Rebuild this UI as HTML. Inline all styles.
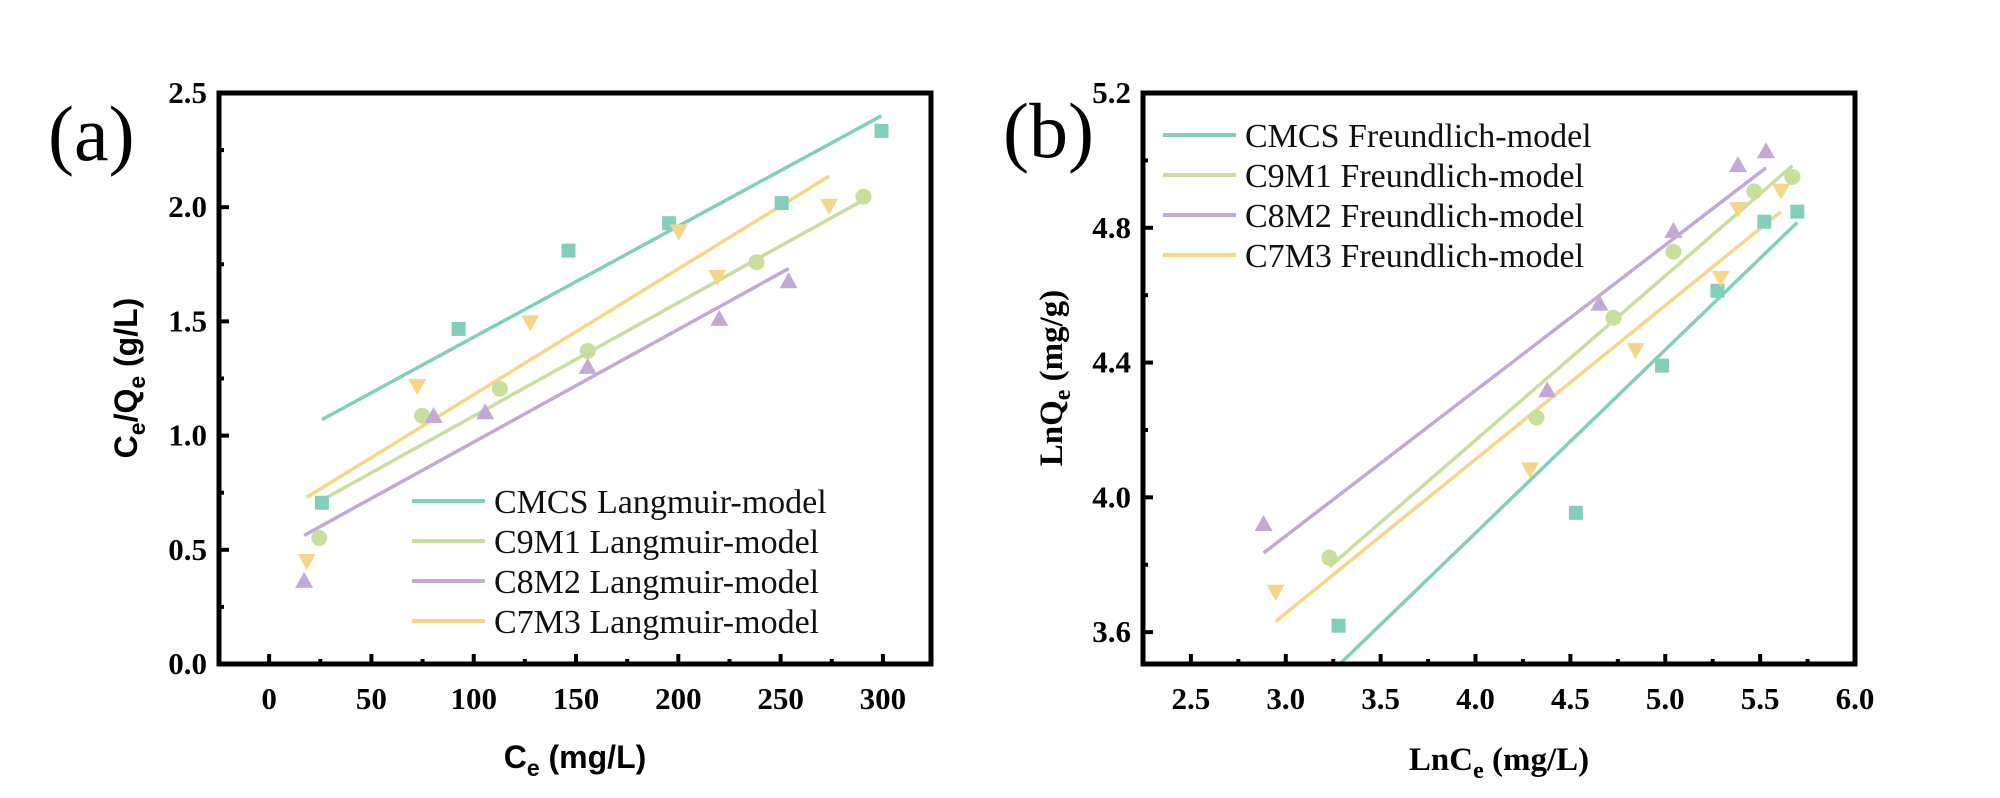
<!DOCTYPE html>
<html><head><meta charset="utf-8"><style>
html,body{margin:0;padding:0;background:#fff;}
svg{display:block;}
.tick{font-family:"Liberation Serif",serif;font-weight:bold;font-size:31px;fill:#000;}
.leg{font-family:"Liberation Serif",serif;font-size:34px;fill:#111;}
</style></head><body>
<svg id="chart" width="2000" height="798" viewBox="0 0 2000 798" xmlns="http://www.w3.org/2000/svg">
<g id="pa"></g>
<g id="pb"></g>
</svg>
<script>
// Panel A data (Langmuir)
const aNames = ["CMCS", "C9M1", "C8M2", "C7M3"];
const aCmcsX = [25.8, 92.6, 146.3, 195.5, 250.5, 299.3];
const aCmcsY = [0.706, 1.467, 1.81, 1.93, 2.018, 2.334];
const aC9m1X = [24.5, 74.8, 112.8, 155.7, 238.2, 290.5];
const aC9m1Y = [0.552, 1.087, 1.205, 1.371, 1.759, 2.046];
const aC8m2X = [17.1, 80.4, 105.6, 155.7, 220, 253.9];
const aC8m2Y = [0.364, 1.086, 1.102, 1.301, 1.511, 1.676];
const aC7m3X = [18.4, 72.4, 127.6, 200.2, 219, 273.7];
const aC7m3Y = [0.451, 1.217, 1.496, 1.894, 1.695, 2.006];
const aFitX = [[25.8, 299.3], [24.5, 291], [17.1, 253.9], [18.4, 273.7]];
const aFitY = [[1.07, 2.40], [0.711, 2.034], [0.563, 1.731], [0.730, 2.136]];
const aXTicks = [0, 50, 100, 150, 200, 250, 300];
const aYTicks = [0.0, 0.5, 1.0, 1.5, 2.0, 2.5];
// Panel B data (Freundlich)
const bCmcsX = [3.278, 4.529, 4.983, 5.275, 5.522, 5.696];
const bCmcsY = [3.619, 3.954, 4.391, 4.613, 4.818, 4.848];
const bC9m1X = [3.230, 4.321, 4.727, 5.043, 5.469, 5.670];
const bC9m1Y = [3.821, 4.237, 4.533, 4.729, 4.908, 4.951];
const bC8m2X = [2.883, 4.378, 4.653, 5.043, 5.383, 5.531];
const bC8m2Y = [3.921, 4.318, 4.575, 4.791, 4.986, 5.027];
const bC7m3X = [2.947, 4.287, 4.844, 5.292, 5.383, 5.610];
const bC7m3Y = [3.720, 4.083, 4.437, 4.651, 4.856, 4.910];
const bFitX = [[3.282, 5.696], [3.230, 5.670], [2.883, 5.531], [2.947, 5.610]];
const bFitY = [[3.504, 4.816], [3.794, 4.984], [3.835, 4.978], [3.632, 4.848]];
const bXTicks = [2.5, 3.0, 3.5, 4.0, 4.5, 5.0, 5.5, 6.0];
const bYTicks = [3.6, 4.0, 4.4, 4.8, 5.2];

const colors = ["#82cfbd", "#c8df9e", "#c4a9d8", "#f7d689"];
const markers = ["square", "circle", "tri", "itri"];
const NS = "http://www.w3.org/2000/svg";
function mk(tag, attrs, parent){const e=document.createElementNS(NS,tag);for(const k in attrs)e.setAttribute(k,attrs[k]);parent.appendChild(e);return e;}

function panel(g, box, xd, yd, xTicks, yTicks, xMinorStep, yMinorStep, fmtX, fmtY, xs, ys, fitX, fitY, legendPos, suffix){
  const sx = v => box.l + (v - xd[0]) / (xd[1] - xd[0]) * (box.r - box.l);
  const sy = v => box.b - (v - yd[0]) / (yd[1] - yd[0]) * (box.b - box.t);
  const clip = mk("clipPath", {id: "clip" + suffix}, g);
  mk("rect", {x: box.l, y: box.t, width: box.r - box.l, height: box.b - box.t}, clip);
  for (let i = 0; i < 4; i++) {
    const ln = mk("line", {x1: sx(fitX[i][0]), y1: sy(fitY[i][0]), x2: sx(fitX[i][1]), y2: sy(fitY[i][1]), stroke: colors[i], "stroke-width": 3.5, "clip-path": "url(#clip" + suffix + ")"}, g);
    
    
  }
  for (let i = 0; i < 4; i++) {
    for (let j = 0; j < xs[i].length; j++) {
      const cx = sx(xs[i][j]), cy = sy(ys[i][j]);
      let el;
      if (markers[i] === "square") el = mk("rect", {x: cx - 7, y: cy - 7, width: 14, height: 14, fill: colors[i]}, g);
      else if (markers[i] === "circle") el = mk("circle", {cx: cx, cy: cy, r: 8, fill: colors[i]}, g);
      else if (markers[i] === "tri") el = mk("polygon", {points: `${cx},${cy-9} ${cx-9},${cy+7} ${cx+9},${cy+7}`, fill: colors[i]}, g);
      else el = mk("polygon", {points: `${cx},${cy+9} ${cx-9},${cy-7} ${cx+9},${cy-7}`, fill: colors[i]}, g);
      
      
    }
  }
  const fr = mk("rect", {x: box.l, y: box.t, width: box.r - box.l, height: box.b - box.t, fill: "none", stroke: "#000", "stroke-width": 5}, g);
  
  
  xTicks.forEach((v, k) => {
    const x = sx(v);
    mk("line", {x1: x, y1: box.b, x2: x, y2: box.b - 10, stroke: "#000", "stroke-width": 4}, g);
    const t = mk("text", {x: x, y: box.b + 45, "text-anchor": "middle", class: "tick"}, g);
    t.textContent = fmtX(v);
    
    
    if (k < xTicks.length - 1) {
      const xm = sx(v + xMinorStep);
      mk("line", {x1: xm, y1: box.b, x2: xm, y2: box.b - 5, stroke: "#000", "stroke-width": 4}, g);
    }
  });
  yTicks.forEach((v, k) => {
    const y = sy(v);
    mk("line", {x1: box.l, y1: y, x2: box.l + 10, y2: y, stroke: "#000", "stroke-width": 4}, g);
    const t = mk("text", {x: box.l - 12, y: y + 10, "text-anchor": "end", class: "tick"}, g);
    t.textContent = fmtY(v);
    
    
    if (k < yTicks.length - 1) {
      const ym = sy(v + yMinorStep);
      mk("line", {x1: box.l, y1: ym, x2: box.l + 5, y2: ym, stroke: "#000", "stroke-width": 4}, g);
    }
  });
  for (let i = 0; i < 4; i++) {
    const y = legendPos.y + i * 40;
    const l = mk("line", {x1: legendPos.x, y1: y, x2: legendPos.x + 73, y2: y, stroke: colors[i], "stroke-width": 4}, g);
    
    
    const t = mk("text", {x: legendPos.x + 82, y: y + 12, class: "leg"}, g);
    t.textContent = aNames[i] + " " + legendPos.label;
    
    
  }
}

const pa = document.getElementById("pa");
panel(pa, {l: 219, r: 931, t: 93, b: 664}, [-24.5, 323.5], [0, 2.5], aXTicks, aYTicks, 25, 0.25,
  v => String(v), v => v.toFixed(1),
  [aCmcsX, aC9m1X, aC8m2X, aC7m3X], [aCmcsY, aC9m1Y, aC8m2Y, aC7m3Y], aFitX, aFitY,
  {x: 412, y: 501, label: "Langmuir-model"}, "a");
const pb = document.getElementById("pb");
panel(pb, {l: 1143, r: 1855, t: 93, b: 664}, [2.2475, 6.0], [3.5054, 5.2], bXTicks, bYTicks, 0.25, 0.2,
  v => v.toFixed(1), v => v.toFixed(1),
  [bCmcsX, bC9m1X, bC8m2X, bC7m3X], [bCmcsY, bC9m1Y, bC8m2Y, bC7m3Y], bFitX, bFitY,
  {x: 1163, y: 135, label: "Freundlich-model"}, "b");
</script>
<svg style="position:absolute;left:0;top:0" width="2000" height="798">
<text x="48" y="160" font-family="Liberation Serif, serif" font-size="78">(a)</text>
<text x="1003" y="157" font-family="Liberation Serif, serif" font-size="78">(b)</text>
<text transform="translate(137,378) rotate(-90)" text-anchor="middle" font-family="Liberation Sans, sans-serif" font-weight="bold" font-size="32">C<tspan font-size="23" dy="8">e</tspan><tspan dy="-8">/Q</tspan><tspan font-size="23" dy="8">e</tspan><tspan dy="-8"> (g/L)</tspan></text>
<text x="575" y="768" text-anchor="middle" font-family="Liberation Sans, sans-serif" font-weight="bold" font-size="32">C<tspan font-size="23" dy="8">e</tspan><tspan dy="-8"> (mg/L)</tspan></text>
<text transform="translate(1062,378) rotate(-90)" text-anchor="middle" font-family="Liberation Serif, serif" font-weight="bold" font-size="33">LnQ<tspan font-size="24" dy="8">e</tspan><tspan dy="-8"> (mg/g)</tspan></text>
<text x="1499" y="770" text-anchor="middle" font-family="Liberation Serif, serif" font-weight="bold" font-size="33">LnC<tspan font-size="24" dy="8">e</tspan><tspan dy="-8"> (mg/L)</tspan></text>
</svg>
</body></html>
